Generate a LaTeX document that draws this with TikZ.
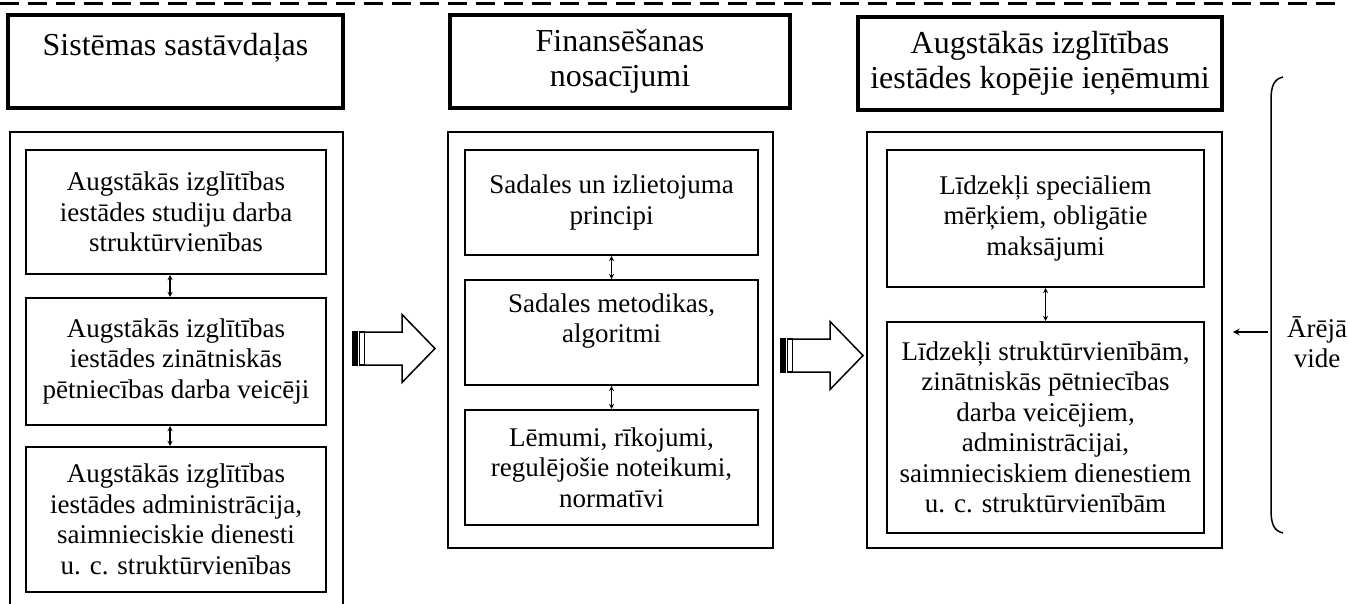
\documentclass[tikz,border=0pt]{standalone}
\usepackage{fontspec}
\setmainfont{Liberation Serif}
\usetikzlibrary{calc, shapes, arrows}

\begin{document}
\begin{tikzpicture}[x=1pt, y=-1pt]
\tikzstyle{head}=[draw, line width=3.5pt, inner sep=0pt, align=center, font=\fontsize{32}{35}\selectfont]
\tikzstyle{frame}=[draw, line width=1.6pt, inner sep=0pt]
\tikzstyle{part}=[draw, line width=2pt, inner sep=0pt, align=center, font=\fontsize{27}{30.5}\selectfont]
\tikzstyle{link}=[<->, >=stealth, line width=1.3pt]
\useasboundingbox (0,0) rectangle (1349,604);
\draw[line width=3pt, dash pattern=on 19pt off 9pt] (0,4) -- (1340,4);
% headers
\node[head, minimum width=335pt, minimum height=93pt] (H_1) at (175.5,61.5) {Sistēmas sastāvdaļas\\[-1pt]\mbox{}};
\node[head, minimum width=340pt, minimum height=93pt] (H_2) at (620,61.5) {Finansēšanas\\nosacījumi};
\node[head, minimum width=364pt, minimum height=93pt] (H_3) at (1040,63.5) {Augstākās izglītības\\iestādes kopējie ieņēmumi};
% frames
\node[frame, minimum width=333pt, minimum height=488pt] (C_1) at (176.5,376) {};
\node[frame, minimum width=325pt, minimum height=416pt] (C_2) at (610.5,340) {};
\node[frame, minimum width=355pt, minimum height=416pt] (C_3) at (1044.5,340) {};
% column 1
\node[part, minimum width=300pt, minimum height=124pt] (A_1) at (176,212) {Augstākās izglītības\\iestādes studiju darba\\struktūrvienības};
\node[part, minimum width=300pt, minimum height=127pt] (A_2) at (176,361.5) {Augstākās izglītības\\iestādes zinātniskās\\pētniecības darba veicēji};
\node[part, minimum width=300pt, minimum height=145pt] (A_3) at (176,519.5) {Augstākās izglītības\\iestādes administrācija,\\saimnieciskie dienesti\\u. c. struktūrvienības};
\draw[link] ([xshift=-6pt]A_1.south) -- ([xshift=-6pt]A_2.north);
\draw[link] ([xshift=-6pt]A_2.south) -- ([xshift=-6pt]A_3.north);
% column 2
\node[part, minimum width=293pt, minimum height=105pt] (B_1) at (611.5,202.5) {Sadales un izlietojuma\\principi};
\node[part, minimum width=293pt, minimum height=105pt] (B_2) at (611.5,332.5) {Sadales metodikas,\\algoritmi\\[-2pt]\mbox{}};
\node[part, minimum width=293pt, minimum height=115pt] (B_3) at (611.5,467.5) {Lēmumi, rīkojumi,\\regulējošie noteikumi,\\normatīvi};
\draw[link] (B_1) -- (B_2);
\draw[link] (B_2) -- (B_3);
% column 3
\node[part, minimum width=317pt, minimum height=137pt] (D_1) at (1045.5,218.5) {Līdzekļi speciāliem\\mērķiem, obligātie\\maksājumi};
\node[part, minimum width=317pt, minimum height=211pt] (D_2) at (1045.5,427.5) {Līdzekļi struktūrvienībām,\\zinātniskās pētniecības\\darba veicējiem,\\administrācijai,\\saimnieciskiem dienestiem\\u. c. struktūrvienībām};
\draw[link] (D_1) -- (D_2);
% striped arrows
\foreach \ax/\ay in {353/348.5, 781/355.5}{
  \begin{scope}[shift={(\ax,\ay)}, line width=1.5pt]
    \filldraw (0,-16.5) rectangle (4,16.5);
    \draw (6.5,-16.5) rectangle (11.5,16.5);
    \draw[line join=miter] (11.5,-16.5) -- (49,-16.5) -- (49,-34) -- (82,0) -- (49,34) -- (49,16.5) -- (11.5,16.5);
  \end{scope}
}
% outside environment
\draw[line width=1.5pt] (1283,77) .. controls (1274,79) and (1271,86) .. (1271,100) -- (1271,510) .. controls (1271,524) and (1274,531) .. (1283,533);
\coordinate (E_0) at (1268,332);
\draw[->, >=stealth, line width=2pt] (E_0) -- ([xshift=10pt]C_3.east |- E_0);
\node[align=center, font=\fontsize{27}{30}\selectfont] (E_1) at (1317,342) {Ārējā\\vide};
\end{tikzpicture}
\end{document}
